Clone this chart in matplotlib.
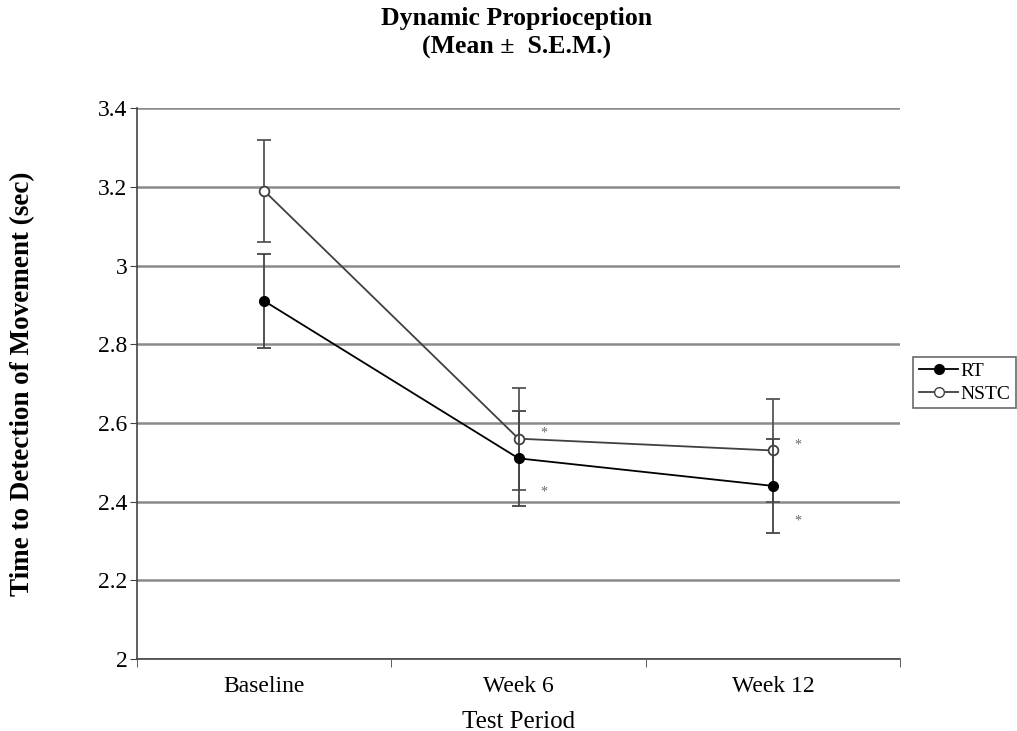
import matplotlib.pyplot as plt
from matplotlib.lines import Line2D
import numpy as np

plt.rcParams['font.family'] = ['Liberation Serif', 'DejaVu Serif']

# data
periods = ['Baseline', 'Week 6', 'Week 12']
rt_mean = [2.91, 2.51, 2.44]
rt_sem = [0.12, 0.12, 0.12]
nstc_mean = [3.19, 2.56, 2.53]
nstc_sem = [0.13, 0.13, 0.13]
yticks = [2, 2.2, 2.4, 2.6, 2.8, 3, 3.2, 3.4]
ytick_labels = ['2', '2.2', '2.4', '2.6', '2.8', '3', '3.2', '3.4']

fig = plt.figure(figsize=(10.17, 7.31), dpi=100)
ax = fig.add_axes([0.1347, 0.0985, 0.7503, 0.7535])

x = np.arange(len(periods))

# grid lines
for v in yticks:
    ax.axhline(v, color='#8a8a8a', lw=1.8, zorder=0)

ax.errorbar(x, nstc_mean, yerr=nstc_sem, color='#404040', lw=1.3, marker='o',
            markersize=7, markerfacecolor='white', markeredgecolor='#404040',
            markeredgewidth=1.3, ecolor='#555555', elinewidth=1.3, capsize=5,
            capthick=1.3, zorder=3)
ax.errorbar(x, rt_mean, yerr=rt_sem, color='black', lw=1.3, marker='o',
            markersize=7, markerfacecolor='black', markeredgecolor='black',
            ecolor='#444444', elinewidth=1.3, capsize=5, capthick=1.3,
            zorder=4)

# significance markers
for i in [1, 2]:
    ax.text(x[i] + 0.1, nstc_mean[i] + 0.015, '*', fontsize=10, color='#666666',
            ha='center', va='center')
    ax.text(x[i] + 0.1, rt_mean[i] - 0.09 if i == 2 else rt_mean[i] - 0.085, '*',
            fontsize=10, color='#666666', ha='center', va='center')

ax.set_xlim(-0.5, 2.5)
ax.set_ylim(2, 3.4)
ax.set_yticks(yticks)
ax.set_yticklabels(ytick_labels, fontsize=17)
ax.set_xticks(x)
ax.set_xticklabels(periods, fontsize=17)
ax.tick_params(axis='x', length=0, pad=12)
ax.set_xticks([-0.5, 0.5, 1.5, 2.5], minor=True)
ax.tick_params(axis='x', which='minor', length=6, direction='out', color='#444444')
ax.tick_params(axis='y', length=5, direction='out', color='#444444', pad=2)

for s in ['top', 'right']:
    ax.spines[s].set_visible(False)
for s in ['left', 'bottom']:
    ax.spines[s].set_color('#444444')
    ax.spines[s].set_linewidth(1.2)

ax.set_xlabel('Test Period', fontsize=18, labelpad=10)
ax.set_ylabel('Time to Detection of Movement (sec)', fontsize=19.5,
              fontweight='bold', labelpad=45)

fig.text(0.508, 0.99, 'Dynamic Proprioception\n(Mean \u00b1  S.E.M.)',
         ha='center', va='top', fontsize=18.5, fontweight='bold', linespacing=1.3)

handles = [
    Line2D([], [], color='black', lw=1.3, marker='o', markersize=7,
           markerfacecolor='black', markeredgecolor='black'),
    Line2D([], [], color='#404040', lw=1.3, marker='o', markersize=7,
           markerfacecolor='white', markeredgecolor='#404040'),
]
leg = fig.legend(handles, ['RT', 'NSTC'], loc='upper left',
                 bbox_to_anchor=(0.898, 0.512), fontsize=14, frameon=True,
                 fancybox=False, edgecolor='#444444', handlelength=2.0,
                 handletextpad=0.1, borderpad=0.3, labelspacing=0.25,
                 borderaxespad=0)
leg.get_frame().set_linewidth(1.2)

fig.savefig('out.png', dpi=100)
